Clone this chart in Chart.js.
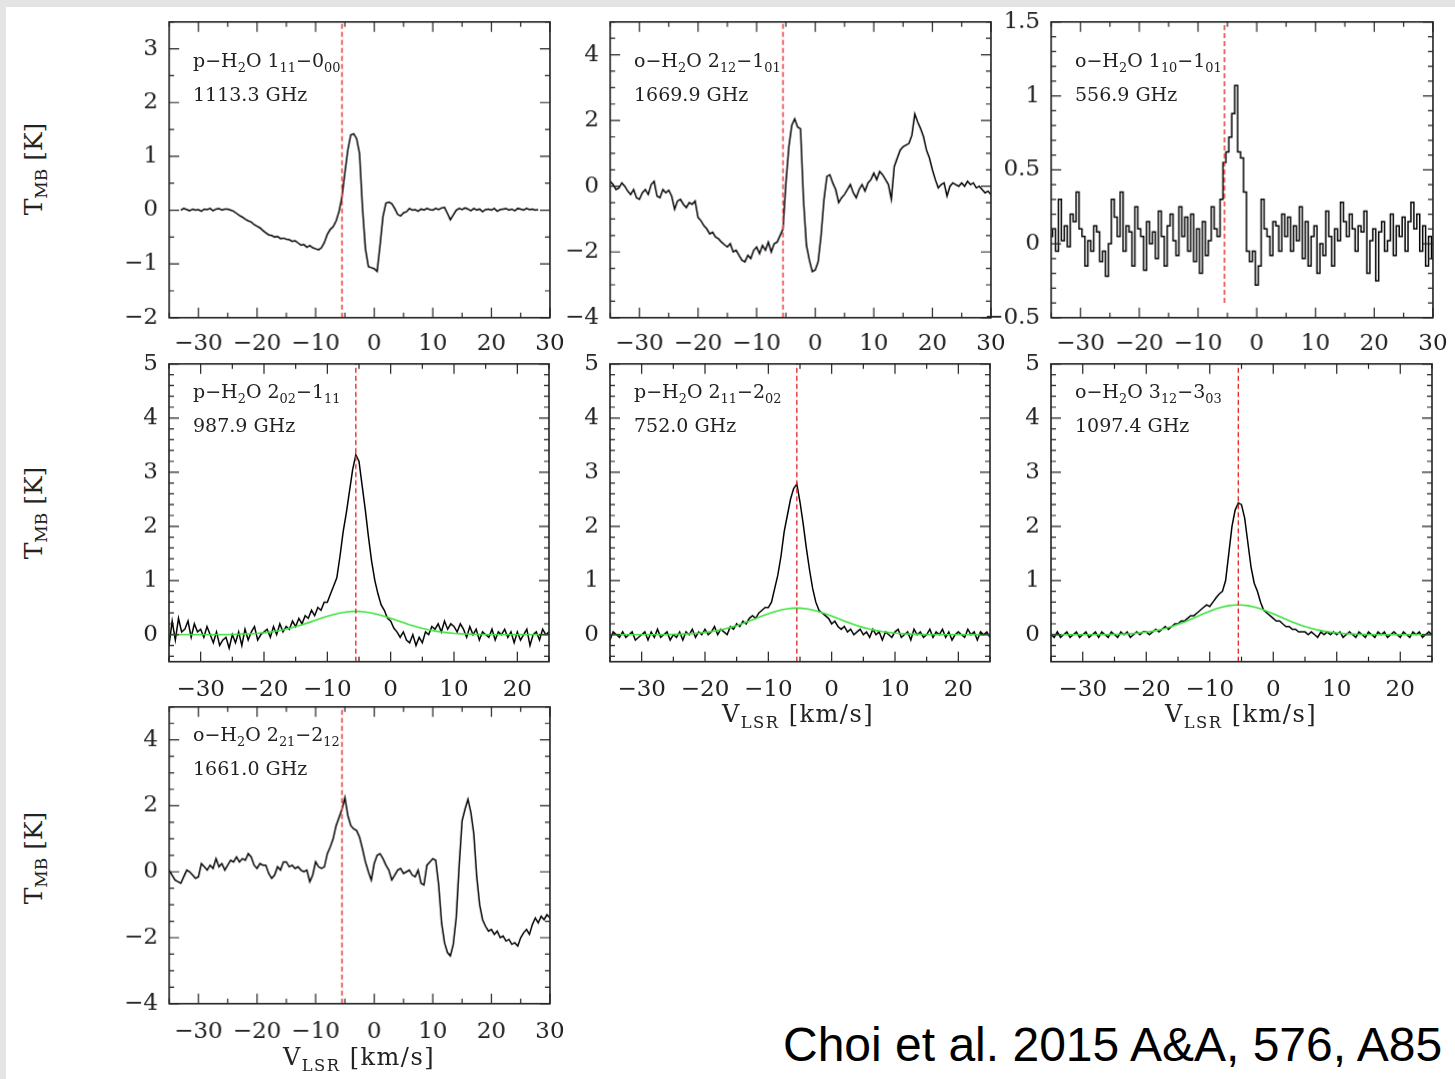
<!DOCTYPE html>
<html lang="en">
<head>
  <meta charset="UTF-8" />
  <title>H2O line profiles</title>
  <script src="https://cdn.jsdelivr.net/npm/chart.js"></script>
  <style>
    body {
      margin: 0;
      width: 1455px;
      height: 1079px;
      background: #e4e4e4;
      overflow: hidden;
      position: relative;
    }
    #sheet {
      position: absolute;
      left: 6px; top: 7px; right: 0; bottom: 0;
      background: #fff;
    }
    canvas { position: absolute; }
    .txt {
      position: absolute;
      white-space: nowrap;
      color: #222;
      font-family: 'DejaVu Serif', serif;
      line-height: 1;
    }
    .txt sub { font-size: 68%; vertical-align: -0.35em; line-height: 0; }
    .ann { font-size: 19px; }
    .xt { font-size: 24px; transform: translateX(-50%); letter-spacing: 1.5px; }
    .yt { font-size: 25px; transform: translate(-50%, -50%) rotate(-90deg); }
    #credit {
      position: absolute;
      left: 783px; top: 1021px;
      font: 48px 'Liberation Sans', Arial, sans-serif;
      line-height: 1;
      color: #000;
      white-space: nowrap;
    }
  </style>
</head>
<body>
  <div id="sheet"></div>
  <div id="credit">Choi et al. 2015 A&amp;A, 576, A85</div>

  <script>
    // velocity grid (km/s) shared by all spectra
    const velocity = [
      -35,-34.5,-34,-33.5,-33,-32.5,-32,-31.5,-31,-30.5,
      -30,-29.5,-29,-28.5,-28,-27.5,-27,-26.5,-26,-25.5,
      -25,-24.5,-24,-23.5,-23,-22.5,-22,-21.5,-21,-20.5,
      -20,-19.5,-19,-18.5,-18,-17.5,-17,-16.5,-16,-15.5,
      -15,-14.5,-14,-13.5,-13,-12.5,-12,-11.5,-11,-10.5,
      -10,-9.5,-9,-8.5,-8,-7.5,-7,-6.5,-6,-5.5,
      -5,-4.5,-4,-3.5,-3,-2.5,-2,-1.5,-1,-0.5,
      0,0.5,1,1.5,2,2.5,3,3.5,4,4.5,
      5,5.5,6,6.5,7,7.5,8,8.5,9,9.5,
      10,10.5,11,11.5,12,12.5,13,13.5,14,14.5,
      15,15.5,16,16.5,17,17.5,18,18.5,19,19.5,
      20,20.5,21,21.5,22,22.5,23,23.5,24,24.5,
      25,25.5,26,26.5,27,27.5,28,28.5,29,29.5,
      30
    ];
    // velocity grid for the broad (green) component fits
    const fitVelocity = [
      -35,-34,-33,-32,-31,-30,-29,-28,-27,-26,
      -25,-24,-23,-22,-21,-20,-19,-18,-17,-16,
      -15,-14,-13,-12,-11,-10,-9,-8,-7,-6,
      -5,-4,-3,-2,-1,0,1,2,3,4,
      5,6,7,8,9,10,11,12,13,14,
      15,16,17,18,19,20,21,22,23,24,
      25
    ];
    const vSys = -5.5;

    // tick values
    const xTicksWide = [-30, -20, -10, 0, 10, 20, 30];
    const xTicksNarrow = [-30, -20, -10, 0, 10, 20];
    const yTicksP1 = [-2, -1, 0, 1, 2, 3];
    const yTicksP2 = [-4, -2, 0, 2, 4];
    const yTicksP3 = [-0.5, 0, 0.5, 1, 1.5];
    const yTicksRow2 = [0, 1, 2, 3, 4, 5];

    // p-H2O 1_11-0_00, 1113.3 GHz
    const tP1 = [
      null,null,null,null,0.00,0.03,0.01,-0.01,0.02,0.00,
      0.01,-0.02,0.02,0.01,0.03,-0.01,0.02,0.03,0.00,0.02,
      0.02,0.00,-0.02,-0.06,-0.10,-0.13,-0.17,-0.20,-0.22,-0.27,
      -0.30,-0.33,-0.38,-0.42,-0.46,-0.47,-0.50,-0.49,-0.53,-0.52,
      -0.54,-0.55,-0.58,-0.57,-0.61,-0.65,-0.64,-0.69,-0.66,-0.70,
      -0.72,-0.74,-0.70,-0.60,-0.45,-0.36,-0.31,-0.20,-0.02,0.25,
      0.70,1.12,1.40,1.42,1.33,1.05,0.05,-0.72,-1.05,-1.07,
      -1.09,-1.14,-0.65,-0.12,0.13,0.15,0.12,0.03,-0.08,-0.11,
      -0.05,-0.03,0.03,0.00,0.01,-0.02,0.02,0.00,0.03,0.01,
      0.00,0.03,0.01,0.04,0.05,-0.06,-0.18,-0.09,0.00,0.03,
      0.01,0.04,0.02,-0.01,0.03,0.00,0.02,-0.03,0.01,0.02,
      0.00,0.03,-0.02,0.01,0.02,0.03,0.00,0.02,-0.01,0.03,
      0.02,0.00,0.03,0.01,0.02,0.00,0.01,null,null,null,
      null
    ];
    // o-H2O 2_12-1_01, 1669.9 GHz
    const tP2 = [
      0.15,0.05,-0.10,-0.05,0.10,0.00,-0.15,-0.25,-0.10,-0.35,
      -0.40,-0.20,-0.10,-0.25,0.05,0.15,-0.30,-0.35,-0.10,-0.20,
      -0.12,-0.30,-0.70,-0.45,-0.40,-0.55,-0.65,-0.50,-0.55,-0.45,
      -0.95,-1.05,-1.20,-1.30,-1.45,-1.40,-1.55,-1.60,-1.70,-1.78,
      -1.85,-1.75,-2.00,-1.95,-2.10,-2.25,-2.30,-2.10,-2.20,-1.95,
      -1.85,-2.05,-1.80,-1.95,-1.70,-2.00,-1.75,-1.70,-1.50,-1.30,
      0.10,1.20,1.85,2.05,1.80,1.75,-0.40,-1.80,-2.25,-2.60,
      -2.55,-2.30,-1.50,-0.40,0.30,0.35,0.10,-0.10,-0.50,-0.35,
      -0.25,-0.10,0.05,-0.20,-0.35,-0.10,0.05,-0.15,0.10,0.20,
      0.40,0.20,0.45,0.35,0.20,0.05,-0.40,0.60,0.85,1.10,
      1.20,1.25,1.30,1.55,2.20,1.95,1.75,1.50,1.10,0.85,
      0.50,0.20,-0.05,0.05,0.10,-0.30,0.00,0.10,0.05,0.00,
      0.10,0.00,0.15,0.05,0.10,-0.05,0.00,-0.10,-0.20,-0.15,
      -0.25
    ];
    // o-H2O 1_10-1_01, 556.9 GHz
    const tP3 = [
      0.05,0.10,-0.05,0.30,0.02,0.12,-0.02,0.20,0.15,0.35,
      0.10,0.05,-0.15,0.02,-0.05,0.12,0.08,-0.12,-0.05,-0.22,
      0.00,0.30,0.18,0.05,0.35,-0.05,0.12,0.08,-0.15,0.25,
      0.10,0.05,-0.18,0.15,0.00,0.08,-0.10,0.22,0.05,-0.15,
      0.12,0.20,0.02,-0.08,0.25,0.05,0.18,-0.05,0.20,-0.12,
      0.10,-0.20,0.15,-0.08,0.02,0.25,0.10,0.05,0.30,0.55,
      0.62,0.72,0.88,1.07,0.62,0.58,0.35,-0.05,-0.12,-0.05,
      -0.28,-0.15,0.30,0.10,0.05,-0.08,0.15,0.12,-0.05,0.20,
      0.05,0.18,-0.05,0.12,0.02,0.25,-0.10,0.15,-0.15,0.05,
      0.12,-0.20,0.00,-0.08,0.22,0.05,-0.15,0.10,0.02,0.28,
      0.15,0.05,0.20,0.10,-0.05,0.12,0.08,0.22,-0.20,0.02,
      0.10,-0.25,0.08,0.15,-0.05,0.02,0.20,-0.08,0.12,0.05,
      0.18,-0.05,0.15,0.28,0.10,0.20,-0.05,0.12,-0.15,0.05,
      -0.10
    ];
    // p-H2O 2_02-1_11, 987.9 GHz
    const tP4 = [
      -0.20,0.25,-0.10,0.30,0.05,0.10,0.25,-0.05,0.20,0.05,
      0.10,-0.05,0.15,0.00,-0.15,0.05,-0.20,-0.10,-0.05,-0.25,
      0.00,-0.15,0.05,-0.20,0.10,-0.10,0.05,0.15,-0.10,0.00,
      0.05,0.10,-0.05,0.15,0.00,0.20,0.05,0.15,0.10,0.25,
      0.15,0.30,0.20,0.35,0.30,0.45,0.35,0.50,0.45,0.60,
      0.60,0.75,0.90,1.05,1.45,1.90,2.25,2.65,3.05,3.32,
      3.20,2.75,2.30,1.80,1.35,1.00,0.75,0.55,0.45,0.30,
      0.25,0.12,0.05,-0.05,0.05,-0.10,-0.15,0.00,-0.20,-0.05,
      -0.15,0.05,0.00,0.15,0.10,0.20,0.05,0.25,0.10,0.20,
      0.15,0.05,0.20,0.10,-0.05,0.15,0.00,0.10,-0.10,0.05,
      0.00,-0.05,0.10,-0.10,0.05,0.00,0.10,-0.05,0.05,-0.15,
      0.05,-0.10,0.00,0.10,-0.20,0.00,0.05,-0.10,0.10,0.00,
      0.05
    ];
    // p-H2O 2_11-2_02, 752.0 GHz
    const tP5 = [
      -0.10,0.05,0.00,-0.05,0.05,-0.05,0.00,0.05,-0.10,-0.05,
      0.00,0.05,-0.10,0.05,-0.05,0.10,-0.05,0.00,0.05,-0.10,
      0.00,-0.05,0.05,-0.10,0.05,0.00,0.10,-0.05,0.05,0.00,
      0.10,0.00,0.05,0.15,0.00,0.10,0.05,0.00,0.15,0.10,
      0.20,0.15,0.25,0.20,0.30,0.35,0.30,0.40,0.45,0.50,
      0.50,0.60,0.85,1.10,1.45,1.90,2.20,2.50,2.70,2.78,
      2.45,2.05,1.60,1.20,0.85,0.60,0.45,0.40,0.35,0.30,
      0.20,0.25,0.15,0.10,0.15,0.05,0.10,0.00,0.05,0.10,
      0.00,0.05,-0.05,0.10,0.00,0.05,-0.10,0.05,0.00,-0.05,
      0.05,0.10,-0.05,0.00,0.05,-0.10,0.10,0.00,0.05,-0.05,
      0.00,0.10,-0.05,0.05,0.00,0.10,-0.05,0.05,-0.10,0.00,
      0.05,0.00,-0.05,0.10,0.00,0.05,-0.10,0.05,0.00,0.05,
      -0.05
    ];
    // o-H2O 3_12-3_03, 1097.4 GHz
    const tP6 = [
      0.00,-0.05,0.05,-0.05,0.00,0.05,-0.05,0.00,0.05,-0.05,
      0.00,0.05,-0.05,0.00,0.05,-0.05,0.05,0.00,-0.05,0.05,
      0.00,-0.05,0.05,0.00,0.05,-0.05,0.00,0.05,0.00,0.05,
      0.05,0.00,0.05,0.10,0.05,0.10,0.15,0.10,0.15,0.20,
      0.20,0.25,0.25,0.30,0.35,0.35,0.40,0.45,0.50,0.55,
      0.52,0.60,0.68,0.75,0.80,1.00,1.50,2.00,2.30,2.43,
      2.40,2.15,1.70,1.25,0.95,0.80,0.60,0.45,0.40,0.35,
      0.30,0.25,0.25,0.20,0.15,0.15,0.10,0.10,0.05,0.05,
      0.05,0.00,0.05,0.00,-0.05,0.05,0.00,0.05,0.00,0.05,
      0.00,0.05,-0.05,0.00,0.05,0.00,-0.05,0.05,0.00,-0.05,
      0.05,0.00,-0.05,0.05,0.00,0.05,-0.05,0.00,0.05,0.00,
      -0.05,0.05,0.00,-0.05,0.05,0.00,0.05,-0.05,0.00,0.05,
      0.00
    ];
    // o-H2O 2_21-2_12, 1661.0 GHz
    const tP7 = [
      0.05,-0.10,-0.25,-0.30,-0.35,-0.15,0.05,0.00,-0.10,-0.20,
      -0.15,0.25,0.15,0.05,0.20,0.10,0.40,0.15,0.25,0.05,
      0.20,0.35,0.30,0.45,0.30,0.40,0.35,0.55,0.45,0.20,
      0.10,0.25,0.20,0.20,-0.05,-0.20,-0.10,0.15,0.05,0.30,
      0.30,0.15,0.20,0.10,0.15,0.05,0.00,0.05,-0.30,-0.10,
      0.30,0.15,0.10,0.15,0.55,0.75,1.00,1.40,1.65,1.90,
      2.25,1.70,1.40,1.30,1.25,1.05,0.70,0.30,0.00,-0.25,
      0.25,0.50,0.55,0.40,0.20,0.05,-0.25,-0.10,0.05,0.10,
      -0.05,0.00,0.05,-0.10,-0.15,0.05,-0.35,-0.40,0.20,0.30,
      0.40,0.35,-0.40,-1.55,-2.15,-2.45,-2.55,-2.20,-1.40,0.20,
      1.55,1.90,2.20,1.80,1.15,-0.15,-1.00,-1.45,-1.65,-1.80,
      -1.75,-1.90,-1.80,-2.00,-1.95,-2.10,-2.05,-2.20,-2.15,-2.25,
      -2.00,-1.85,-1.75,-1.90,-1.60,-1.40,-1.55,-1.35,-1.45,-1.30,
      -1.40
    ];

    // broad component fits (green)
    const fitP4 = [
      0,0,0,0,0,0,0,0,0,0,
      0.005,0.007,0.012,0.017,0.025,0.036,0.050,0.068,0.090,0.117,
      0.148,0.183,0.221,0.261,0.301,0.338,0.372,0.399,0.419,0.429,
      0.429,0.419,0.399,0.372,0.338,0.301,0.261,0.221,0.183,0.148,
      0.117,0.090,0.068,0.050,0.036,0.025,0.017,0.012,0.007,0.005,
      0,0,0,0,0,0,0,0,0,0,
      0
    ];
    const fitP5 = [
      0,0,0,0,0,0,0,0,0,0,
      0.005,0.008,0.013,0.020,0.028,0.041,0.057,0.077,0.102,0.133,
      0.169,0.208,0.252,0.297,0.343,0.386,0.424,0.455,0.477,0.489,
      0.489,0.477,0.455,0.424,0.386,0.343,0.297,0.252,0.208,0.169,
      0.133,0.102,0.077,0.057,0.041,0.028,0.020,0.013,0.008,0.005,
      0,0,0,0,0,0,0,0,0,0,
      0
    ];
    const fitP6 = [
      0,0,0,0,0,0,0,0,0,0,
      0.006,0.009,0.015,0.022,0.032,0.046,0.064,0.086,0.115,0.149,
      0.189,0.234,0.283,0.334,0.384,0.433,0.476,0.511,0.536,0.548,
      0.548,0.536,0.511,0.476,0.433,0.384,0.334,0.283,0.234,0.189,
      0.149,0.115,0.086,0.064,0.046,0.032,0.022,0.015,0.009,0.006,
      0,0,0,0,0,0,0,0,0,0,
      0
    ];

    const lineNames = [
      'p\u2212H<sub>2</sub>O 1<sub>11</sub>\u22120<sub>00</sub>',
      'o\u2212H<sub>2</sub>O 2<sub>12</sub>\u22121<sub>01</sub>',
      'o\u2212H<sub>2</sub>O 1<sub>10</sub>\u22121<sub>01</sub>',
      'p\u2212H<sub>2</sub>O 2<sub>02</sub>\u22121<sub>11</sub>',
      'p\u2212H<sub>2</sub>O 2<sub>11</sub>\u22122<sub>02</sub>',
      'o\u2212H<sub>2</sub>O 3<sub>12</sub>\u22123<sub>03</sub>',
      'o\u2212H<sub>2</sub>O 2<sub>21</sub>\u22122<sub>12</sub>'
    ];
    const lineFreqs = ['1113.3 GHz', '1669.9 GHz', '556.9 GHz', '987.9 GHz', '752.0 GHz', '1097.4 GHz', '1661.0 GHz'];

    // layout of each panel: plot box [left, top, right, bottom] in page px
    const panels = [
      { box: [169, 22, 549, 317], xMax: 30, xTicks: xTicksWide, yMin: -2, yMax: 3.5, yTicks: yTicksP1, yMajor: 1, yMinor: 0.5, temps: tP1, fit: null, sys: [-2, 3.5], xPad: 12, ann: [193, 67, 100.5] },
      { box: [610, 22, 990, 317], xMax: 30, xTicks: xTicksWide, yMin: -4, yMax: 5, yTicks: yTicksP2, yMajor: 2, yMinor: 0.5, temps: tP2, fit: null, sys: [-4, 5], xPad: 12, ann: [634, 67, 100.5] },
      { box: [1051, 22, 1432, 317], xMax: 30, xTicks: xTicksWide, yMin: -0.5, yMax: 1.5, yTicks: yTicksP3, yMajor: 0.5, yMinor: 0.1, temps: tP3, fit: null, sys: [-0.4, 1.5], xPad: 12, ann: [1075, 67, 100.5], stepped: true },
      { box: [169, 364, 549, 661], xMax: 25, xTicks: xTicksNarrow, yMin: -0.5, yMax: 5, yTicks: yTicksRow2, yMajor: 1, yMinor: 0.2, temps: tP4, fit: fitP4, sys: [-0.5, 5], xPad: 14, ann: [193, 398, 432] },
      { box: [610, 364, 990, 661], xMax: 25, xTicks: xTicksNarrow, yMin: -0.5, yMax: 5, yTicks: yTicksRow2, yMajor: 1, yMinor: 0.2, temps: tP5, fit: fitP5, sys: [-0.5, 5], xPad: 14, ann: [634, 398, 432] },
      { box: [1051, 364, 1432, 661], xMax: 25, xTicks: xTicksNarrow, yMin: -0.5, yMax: 5, yTicks: yTicksRow2, yMajor: 1, yMinor: 0.2, temps: tP6, fit: fitP6, sys: [-0.5, 5], xPad: 14, ann: [1075, 398, 432] },
      { box: [169, 707, 549, 1003], xMax: 30, xTicks: xTicksWide, yMin: -4, yMax: 5, yTicks: yTicksP2, yMajor: 2, yMinor: 0.5, temps: tP7, fit: null, sys: [-4, 5], xPad: 14, ann: [193, 741, 775] }
    ];

    const ink = '#222';
    const tickFont = { family: "'DejaVu Serif', serif", size: 23 };
    const fmt = v => String(Math.round(v * 10) / 10).replace('-', '\u2212');

    // box round the plot with inward major / minor ticks on all four sides
    const frameTicks = {
      id: 'frameTicks',
      afterDraw(chart, args, o) {
        const { ctx, chartArea: a, scales: { x, y } } = chart;
        ctx.save();
        ctx.strokeStyle = ink;
        ctx.lineWidth = 1.2;
        ctx.beginPath();
        const run = (sc, step, major, fn) => {
          for (let k = Math.ceil(sc.min / step - 1e-9); k * step <= sc.max + 1e-9; k++) {
            const v = k * step;
            const isMajor = Math.abs(v / major - Math.round(v / major)) < 1e-6;
            fn(sc.getPixelForValue(v), isMajor ? 10 : 5);
          }
        };
        run(x, o.xMinor, o.xMajor, (px, len) => {
          ctx.moveTo(px, a.bottom); ctx.lineTo(px, a.bottom - len);
          ctx.moveTo(px, a.top); ctx.lineTo(px, a.top + len);
        });
        run(y, o.yMinor, o.yMajor, (py, len) => {
          ctx.moveTo(a.left, py); ctx.lineTo(a.left + len, py);
          ctx.moveTo(a.right, py); ctx.lineTo(a.right - len, py);
        });
        ctx.stroke();
        ctx.lineWidth = 1.6;
        ctx.strokeRect(a.left, a.top, a.right - a.left, a.bottom - a.top);
        ctx.restore();
      }
    };

    const YW = 75, XH = 55, PT = 18, PR = 24;

    panels.forEach((p, i) => {
      const [l, t, r, b] = p.box;
      const bw = r - l, bh = b - t;
      let cw = bw + YW + PR, ch = bh + PT + XH;
      const cv = document.createElement('canvas');
      cv.width = cw; cv.height = ch;
      cv.style.width = cw + 'px'; cv.style.height = ch + 'px';
      document.body.appendChild(cv);

      const spectrum = p.temps.map((y, k) => ({ x: velocity[k], y })).filter(d => d.y !== null);
      const datasets = [{
        data: [{ x: vSys, y: p.sys[0] }, { x: vSys, y: p.sys[1] }],
        borderColor: '#e62a2a', borderWidth: 1.4, borderDash: [5, 3],
        pointRadius: 0, order: 0
      }];
      if (p.fit) {
        datasets.push({
          data: p.fit.map((y, k) => ({ x: fitVelocity[k], y })),
          borderColor: '#3ee23e', borderWidth: 1.6, pointRadius: 0, order: 1
        });
      }
      datasets.push({
        data: spectrum, borderColor: '#000', borderWidth: 1.5,
        pointRadius: 0, stepped: p.stepped ? 'middle' : false, order: 2
      });

      const chart = new Chart(cv, {
        type: 'line',
        data: { datasets },
        options: {
          responsive: false,
          maintainAspectRatio: false,
          devicePixelRatio: 1,
          animation: false,
          layout: { padding: { left: 0, top: PT, right: PR, bottom: 0 } },
          plugins: {
            legend: { display: false },
            tooltip: { enabled: false },
            frameTicks: { xMinor: 5, xMajor: 10, yMinor: p.yMinor, yMajor: p.yMajor }
          },
          scales: {
            x: {
              type: 'linear', min: -35, max: p.xMax,
              grid: { display: false, drawTicks: false },
              border: { display: false },
              afterBuildTicks(s) { s.ticks = p.xTicks.map(v => ({ value: v })); },
              ticks: {
                autoSkip: false, maxRotation: 0,
                padding: p.xPad, font: tickFont, color: ink, callback: fmt
              },
              afterFit(s) { s.height = XH; }
            },
            y: {
              type: 'linear', min: p.yMin, max: p.yMax,
              grid: { display: false, drawTicks: false },
              border: { display: false },
              afterBuildTicks(s) { s.ticks = p.yTicks.map(v => ({ value: v })); },
              ticks: {
                autoSkip: false,
                padding: 11, font: tickFont, color: ink, callback: fmt
              },
              afterFit(s) { s.width = YW; }
            }
          }
        },
        plugins: [frameTicks]
      });

      // make the plot area land exactly on the box
      const ca = chart.chartArea;
      const dw = bw - (ca.right - ca.left), dh = bh - (ca.bottom - ca.top);
      if (Math.abs(dw) > 0.5 || Math.abs(dh) > 0.5) {
        cw += dw; ch += dh;
        chart.resize(cw, ch);
      }
      cv.style.left = (l - chart.chartArea.left) + 'px';
      cv.style.top = (t - chart.chartArea.top) + 'px';

      // line name and frequency
      const [ax, b1, b2] = p.ann;
      const n = document.createElement('div');
      n.className = 'txt ann';
      n.innerHTML = lineNames[i];
      n.style.left = ax + 'px';
      n.style.top = (b1 - 16) + 'px';
      document.body.appendChild(n);
      const f = document.createElement('div');
      f.className = 'txt ann';
      f.textContent = lineFreqs[i];
      f.style.left = ax + 'px';
      f.style.top = (b2 - 16) + 'px';
      document.body.appendChild(f);
    });

    // axis titles
    const yTitles = [[33, 169], [33, 513], [33, 858]];
    yTitles.forEach(([cx, cy]) => {
      const d = document.createElement('div');
      d.className = 'txt yt';
      d.innerHTML = 'T<sub>MB</sub> [K]';
      d.style.left = cx + 'px';
      d.style.top = cy + 'px';
      document.body.appendChild(d);
    });
    const xTitles = [[798, 722], [1241, 722], [359, 1065]];
    xTitles.forEach(([cx, base]) => {
      const d = document.createElement('div');
      d.className = 'txt xt';
      d.innerHTML = 'V<sub>LSR</sub> [km/s]';
      d.style.left = cx + 'px';
      d.style.top = (base - 20) + 'px';
      document.body.appendChild(d);
    });
  </script>
</body>
</html>
